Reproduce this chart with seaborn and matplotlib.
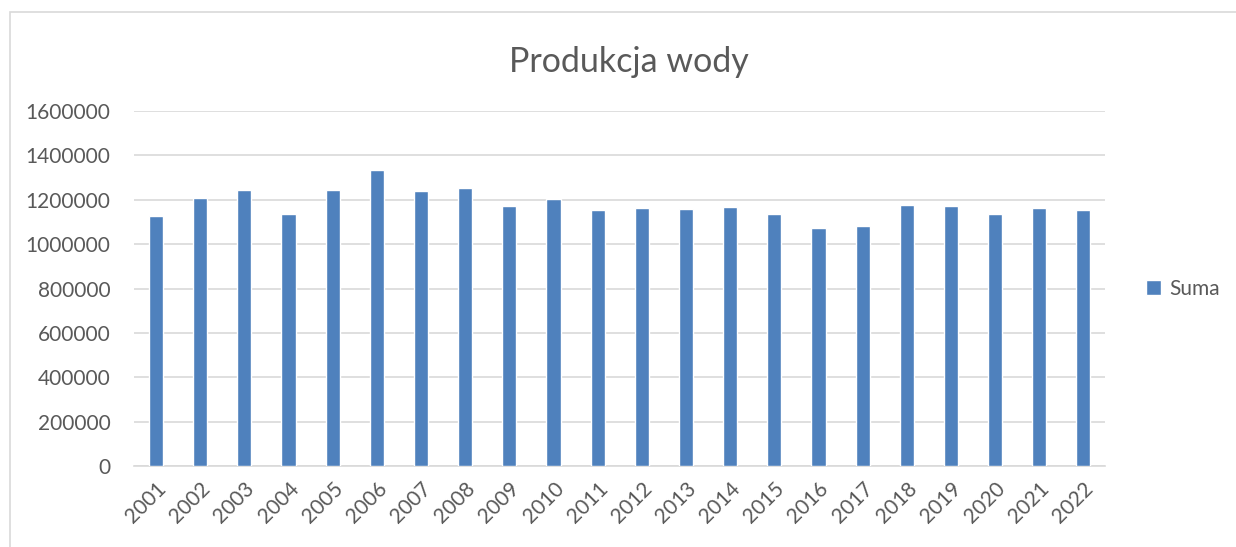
import pandas as pd
import matplotlib.pyplot as plt
import seaborn as sns
from matplotlib.patches import Rectangle

# Data
years = [str(y) for y in range(2001, 2023)]
suma = [1129000, 1206000, 1242000, 1138000, 1243000, 1333000, 1239000, 1255000,
        1171000, 1203000, 1152000, 1161000, 1160000, 1167000, 1134000, 1075000,
        1081000, 1176000, 1174000, 1137000, 1161000, 1152000]
yticks = [0, 200000, 400000, 600000, 800000, 1000000, 1200000, 1400000, 1600000]

df = pd.DataFrame({'rok': years, 'Suma': suma})

sns.set_style('white')
plt.rcParams['font.family'] = ['Lato', 'DejaVu Sans']
text_col = '#595959'
bar_col = '#4F81BD'

fig = plt.figure(figsize=(12.36, 5.47), dpi=100)
ax = fig.add_axes([0.1084, 0.148, 0.786, 0.649])

sns.barplot(data=df, x='rok', y='Suma', color=bar_col, width=0.32,
            saturation=1, ax=ax, label='Suma', zorder=3)

ax.set_ylim(0, 1600000)
ax.set_xlim(-0.5, len(years) - 0.5)
ax.set_yticks(yticks)
ax.set_yticklabels([str(t) for t in yticks])
ax.yaxis.grid(True, color='#D9D9D9', linewidth=1.2, zorder=0)
ax.set_axisbelow(True)
for s in ['top', 'right', 'left']:
    ax.spines[s].set_visible(False)
ax.spines['bottom'].set_color('#D9D9D9')
ax.spines['bottom'].set_linewidth(1.2)
ax.tick_params(axis='both', length=0, labelsize=15, colors=text_col)
ax.tick_params(axis='y', pad=17)
ax.tick_params(axis='x', pad=9)
plt.setp(ax.get_xticklabels(), rotation=45, ha='right', rotation_mode='anchor')
ax.set_xlabel('')
ax.set_ylabel('')

fig.suptitle('Produkcja wody', x=0.509, y=0.915, fontsize=24.5, color=text_col)

leg = ax.legend(loc='center left', bbox_to_anchor=(1.022, 0.5), frameon=False,
                fontsize=15, handlelength=0.75, handleheight=0.75, handletextpad=0.4)
for t in leg.get_texts():
    t.set_color(text_col)

# chart area border
fig.patches.append(Rectangle((10 / 1236, -0.1), 1.2, 1.1 - 12 / 547,
                             transform=fig.transFigure, fill=False,
                             edgecolor='#D9D9D9', linewidth=1.2))

fig.savefig('out.png', dpi=100)
